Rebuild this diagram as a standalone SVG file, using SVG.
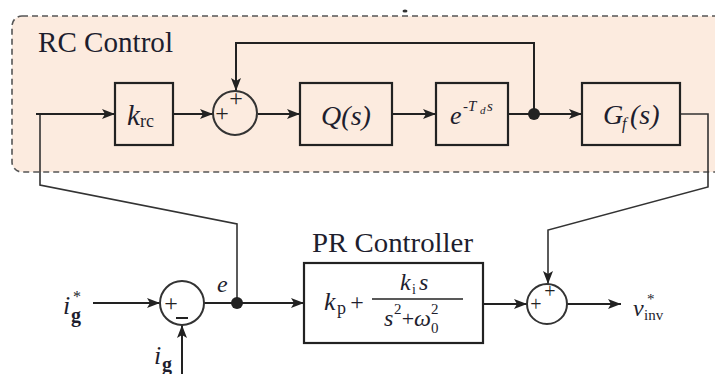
<svg xmlns="http://www.w3.org/2000/svg" width="715" height="374" viewBox="0 0 715 374">
<defs>
<marker id="arr" markerUnits="userSpaceOnUse" markerWidth="13" markerHeight="10" refX="13" refY="5" orient="auto">
<path d="M0,0 L13,5 L0,10 L3,5 z" fill="#222"/>
</marker>
<style>
.blk{fill:none;stroke:#222;stroke-width:2.2}
.ln{fill:none;stroke:#222;stroke-width:2}
.thin{fill:none;stroke:#333;stroke-width:1.6}
.sum{fill:none;stroke:#333;stroke-width:2}
text{font-family:'Liberation Serif','DejaVu Serif',serif;fill:#1e1e2e}
.m{font-style:italic}
.r{font-style:normal}
.sg{fill:#222}
</style>
</defs>
<rect width="715" height="374" fill="#ffffff"/>
<g id="rc-region">
<rect x="12" y="16" width="715" height="156" rx="10" fill="#fcebdf" stroke="#555" stroke-width="1.6" stroke-dasharray="6,4"/>
<text x="38" y="52" font-size="29" textLength="135" lengthAdjust="spacingAndGlyphs">RC Control</text>
</g>
<ellipse cx="405" cy="11" rx="2.5" ry="1.5" fill="#333"/>
<g id="connectors">
<path class="thin" d="M237,303 V224 L40,185 V114"/>
<path class="ln" d="M36,114 H115" marker-end="url(#arr)"/>
<path class="ln" d="M173,114 H213" marker-end="url(#arr)"/>
<path class="ln" d="M258,114 H300" marker-end="url(#arr)"/>
<path class="ln" d="M392,114 H436" marker-end="url(#arr)"/>
<path class="ln" d="M508,114 H582" marker-end="url(#arr)"/>
<path class="ln" d="M534,114 V43 H236 V91" marker-end="url(#arr)"/>
<path class="thin" d="M680,114 H708 V187 L548,230 V284" marker-end="url(#arr)"/>
<path class="ln" d="M93,303 H160" marker-end="url(#arr)"/>
<path class="ln" d="M182,374 V325" marker-end="url(#arr)"/>
<path class="ln" d="M204,303 H304" marker-end="url(#arr)"/>
<path class="ln" d="M483,304 H527" marker-end="url(#arr)"/>
<path class="ln" d="M567,304 H621" marker-end="url(#arr)"/>
<circle cx="534" cy="114" r="6" fill="#222"/>
<circle cx="237" cy="303" r="6" fill="#222"/>
</g>
<g id="k-rc">
<rect class="blk" x="115" y="83" width="58" height="62"/>
<text class="m" x="127" y="125" font-size="29">k</text>
<text class="r" x="140" y="127" font-size="18">rc</text>
</g>
<g id="sum1">
<circle class="sum" cx="235" cy="113" r="22"/>
<text class="sg" x="222" y="121" font-size="24" text-anchor="middle">+</text>
<text class="sg" x="236" y="106" font-size="24" text-anchor="middle">+</text>
</g>
<g id="q-s">
<rect class="blk" x="300" y="83" width="92" height="62"/>
<text class="m" x="346" y="125" font-size="28" text-anchor="middle">Q(s)</text>
</g>
<g id="delay">
<rect class="blk" x="436" y="83" width="72" height="62"/>
<text class="m" x="450" y="124" font-size="26">e</text>
<text class="m" x="463" y="111" font-size="15">-T</text>
<text class="m" x="480" y="114" font-size="11">d</text>
<text class="m" x="487" y="111" font-size="15">s</text>
</g>
<g id="gf">
<rect class="blk" x="582" y="83" width="98" height="62"/>
<text class="m" x="603" y="124" font-size="28">G</text>
<text class="m" x="622" y="129" font-size="16">f</text>
<text class="m" x="630" y="124" font-size="28">(s)</text>
</g>
<g id="sum2">
<circle class="sum" cx="182" cy="303" r="22"/>
<text class="sg" x="171" y="311" font-size="24" text-anchor="middle">+</text>
<path d="M176,318 H188" stroke="#222" stroke-width="2"/>
</g>
<g id="pr">
<text x="312" y="252" font-size="28" textLength="161" lengthAdjust="spacingAndGlyphs">PR Controller</text>
<rect class="blk" x="304" y="263" width="179" height="80"/>
<text class="m" x="324" y="310" font-size="26">k</text>
<text class="r" x="337" y="314" font-size="18">p</text>
<text class="r" x="357" y="310" font-size="24" text-anchor="middle">+</text>
<path d="M372,299 H463" stroke="#222" stroke-width="1.6"/>
<text class="m" x="400" y="290" font-size="24">k</text>
<text class="r" x="412" y="294" font-size="14">i</text>
<text class="m" x="419" y="290" font-size="24">s</text>
<text class="m" x="384" y="326" font-size="24">s</text>
<text class="r" x="394" y="314" font-size="15">2</text>
<text class="r" x="408" y="326" font-size="22" text-anchor="middle">+</text>
<text class="m" x="414" y="326" font-size="24">ω</text>
<text class="r" x="431" y="333" font-size="15">0</text>
<text class="r" x="431" y="314" font-size="15">2</text>
</g>
<g id="sum3">
<circle class="sum" cx="547" cy="304" r="20"/>
<text class="sg" x="536" y="311" font-size="20" text-anchor="middle">+</text>
<text class="sg" x="550" y="298" font-size="20" text-anchor="middle">+</text>
</g>
<g id="labels">
<text class="m" x="63" y="314" font-size="26">i</text>
<text class="r" x="71" y="322" font-size="20" font-weight="bold">g</text>
<text class="r" x="73" y="302" font-size="16">*</text>
<text class="m" x="154" y="364" font-size="26">i</text>
<text class="r" x="162" y="371" font-size="20" font-weight="bold">g</text>
<text class="m" x="217" y="292" font-size="24">e</text>
<text class="m" x="633" y="316" font-size="24">v</text>
<text class="r" x="644" y="320" font-size="15">inv</text>
<text class="r" x="647" y="304" font-size="15">*</text>
</g>
</svg>
